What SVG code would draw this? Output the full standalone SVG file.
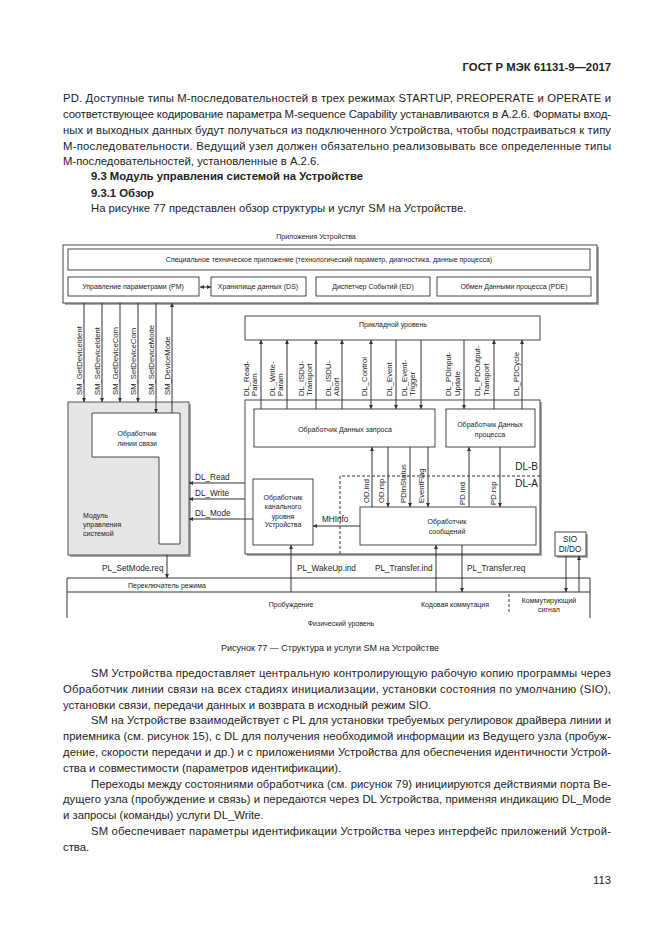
<svg xmlns="http://www.w3.org/2000/svg" width="661" height="935" viewBox="0 0 661 935">
<defs>
<style>
.t{font-family:"Liberation Sans",Arial,sans-serif;fill:#222}
.body{font-size:11.3px}
.b{font-weight:bold}
.d7{font-size:7px}
.lbl{font-size:8.2px}
.rl{font-size:7.7px}
.dl{font-size:10px}
.c{text-anchor:middle}
.e{text-anchor:end}
.ln{stroke:#333;stroke-width:1;fill:none}
.bx{fill:#fff;stroke:#333;stroke-width:0.9}
.sh{fill:#aaa;stroke:none}
.dash{stroke:#333;stroke-width:1;fill:none;stroke-dasharray:3,2}
</style>
<marker id="ah" viewBox="0 0 10 10" refX="10" refY="5" markerWidth="5" markerHeight="4" orient="auto-start-reverse" markerUnits="userSpaceOnUse">
<path d="M0,0 L10,5 L0,10 z" fill="#333"/>
</marker>
</defs>
<rect width="661" height="935" fill="#fff"/>

<!-- page text top -->
<g id="page-top">
<text class="t body b e" x="611" y="71">ГОСТ Р МЭК 61131-9—2017</text>
<text class="t body" x="63" y="102" textLength="548" lengthAdjust="spacing">PD. Доступные типы М-последовательностей в трех режимах STARTUP, PREOPERATE и OPERATE и</text>
<text class="t body" x="63" y="118" textLength="548" lengthAdjust="spacing">соответствующее кодирование параметра M-sequence Capability устанавливаются в А.2.6. Форматы вход-</text>
<text class="t body" x="63" y="134" textLength="548" lengthAdjust="spacing">ных и выходных данных будут получаться из подключенного Устройства, чтобы подстраиваться к типу</text>
<text class="t body" x="63" y="150" textLength="548" lengthAdjust="spacing">М-последовательности. Ведущий узел должен обязательно реализовывать все определенные типы</text>
<text class="t body" x="63" y="165">М-последовательностей, установленные в А.2.6.</text>
<text class="t body b" x="91" y="180">9.3 Модуль управления системой на Устройстве</text>
<text class="t body b" x="91" y="197">9.3.1 Обзор</text>
<text class="t body" x="91" y="212">На рисунке 77 представлен обзор структуры и услуг SM на Устройстве.</text>
</g>

<!-- Application box -->
<g id="app">
<text class="t d7 c" x="316" y="239">Приложения Устройства</text>
<rect class="sh" x="65" y="247" width="534" height="58"/>
<rect class="bx" x="63" y="245" width="534" height="58"/>
</g>
<g id="tech-app">
<rect class="bx" x="68" y="249" width="522" height="21"/>
<text class="t d7 c" x="329" y="262">Специальное техническое приложение (технологический параметр, диагностика, данные процесса)</text>
</g>
<g id="pm">
<rect class="bx" x="68" y="277" width="131" height="19"/>
<text class="t d7 c" x="133" y="289">Управление параметрами (PM)</text>
</g>
<g id="ds">
<rect class="bx" x="211" y="277" width="95" height="19"/>
<text class="t d7 c" x="258" y="289">Хранилище данных (DS)</text>
</g>
<g id="ed">
<rect class="bx" x="316" y="277" width="114" height="19"/>
<text class="t d7 c" x="373" y="289">Диспетчер Событий (ED)</text>
</g>
<g id="pde">
<rect class="bx" x="437" y="277" width="154" height="19"/>
<text class="t d7 c" x="514" y="289">Обмен Данными процесса (PDE)</text>
</g>

<!-- Application layer -->
<g id="al">
<rect class="bx" x="245" y="316" width="295" height="24"/>
<text class="t d7 c" x="393" y="327">Прикладной уровень</text>
</g>

<!-- DL big box -->
<g id="dl">
<rect class="sh" x="247" y="402" width="295" height="154"/>
<rect class="bx" x="245" y="400" width="295" height="154"/>
<text class="t dl e" x="538" y="470">DL-B</text>
<text class="t dl e" x="538" y="487">DL-A</text>
</g>
<g id="odh">
<rect class="bx" x="254" y="409" width="181" height="38"/>
<text class="t d7 c" x="345" y="432">Обработчик Данных запроса</text>
</g>
<g id="pdh">
<rect class="bx" x="446" y="409" width="89" height="38"/>
<text class="t d7 c" x="490" y="427">Обработчик Данных</text>
<text class="t d7 c" x="490" y="437">процесса</text>
</g>
<g id="dlmh">
<rect class="bx" x="253" y="479" width="60" height="66"/>
<text class="t d7 c" x="283" y="500">Обработчик</text>
<text class="t d7 c" x="283" y="509">канального</text>
<text class="t d7 c" x="283" y="519">уровня</text>
<text class="t d7 c" x="283" y="527">Устройства</text>
</g>
<g id="msgh">
<rect class="bx" x="360" y="507" width="176" height="38"/>
<text class="t d7 c" x="447" y="524">Обработчик</text>
<text class="t d7 c" x="447" y="534">сообщений</text>
</g>

<!-- SM -->
<g id="sm">
<rect class="sh" x="70" y="404" width="121" height="153"/>
<rect x="68" y="402" width="121" height="153" fill="#e6e6e6" stroke="#444" stroke-width="0.9"/>
<text class="t d7" x="83" y="518">Модуль</text>
<text class="t d7" x="83" y="527">управления</text>
<text class="t d7" x="83" y="536">системой</text>
</g>
<g id="lh">
<path d="M92,413 H180 V544 H159 V457 H92 Z" fill="#fff" stroke="#333" stroke-width="0.9"/>
<text class="t d7 c" x="137" y="436">Обработчик</text>
<text class="t d7 c" x="137" y="446">линии связи</text>
</g>

<!-- SIO -->
<g id="sio">
<rect class="sh" x="557" y="534" width="31" height="24"/>
<rect class="bx" x="555" y="532" width="31" height="24"/>
<text class="t lbl c" x="570" y="542">SIO</text>
<text class="t lbl c" x="570" y="552">DI/DO</text>
</g>

<!-- Physical layer band -->
<g id="pl">
<path class="ln" d="M67,618 V578 H590 V618 M67,592 H590"/>
<line class="dash" x1="509" y1="594" x2="509" y2="612"/>
<text class="t d7 c" x="167" y="588">Переключатель режима</text>
<text class="t d7 c" x="291" y="607">Пробуждение</text>
<text class="t d7 c" x="455" y="607">Кодовая коммутация</text>
<text class="t d7 c" x="549" y="603">Коммутирующий</text>
<text class="t d7 c" x="549" y="612">сигнал</text>
<text class="t d7 c" x="341" y="626">Физический уровень</text>
</g>

<!-- connectors -->
<g id="connectors">
<line class="ln" x1="200" y1="287" x2="211" y2="287" marker-start="url(#ah)" marker-end="url(#ah)"/>
<!-- SM services -->
<line class="ln" x1="84" y1="303" x2="84" y2="402" marker-end="url(#ah)"/>
<line class="ln" x1="102" y1="303" x2="102" y2="402" marker-end="url(#ah)"/>
<line class="ln" x1="120" y1="303" x2="120" y2="402" marker-end="url(#ah)"/>
<line class="ln" x1="138" y1="303" x2="138" y2="402" marker-end="url(#ah)"/>
<line class="ln" x1="156" y1="303" x2="156" y2="413" marker-end="url(#ah)"/>
<line class="ln" x1="172" y1="413" x2="172" y2="303" marker-end="url(#ah)"/>
<!-- DL services -->
<line class="ln" x1="261" y1="409" x2="261" y2="340" marker-end="url(#ah)"/>
<line class="ln" x1="287" y1="409" x2="287" y2="340" marker-end="url(#ah)"/>
<line class="ln" x1="316" y1="409" x2="316" y2="340" marker-end="url(#ah)"/>
<line class="ln" x1="342" y1="409" x2="342" y2="340" marker-end="url(#ah)"/>
<line class="ln" x1="371" y1="340" x2="371" y2="409" marker-start="url(#ah)" marker-end="url(#ah)"/>
<line class="ln" x1="396" y1="340" x2="396" y2="409" marker-end="url(#ah)"/>
<line class="ln" x1="421" y1="340" x2="421" y2="409" marker-end="url(#ah)"/>
<line class="ln" x1="464" y1="340" x2="464" y2="409" marker-end="url(#ah)"/>
<line class="ln" x1="494" y1="409" x2="494" y2="340" marker-end="url(#ah)"/>
<line class="ln" x1="522" y1="409" x2="522" y2="340" marker-end="url(#ah)"/>
<!-- internal DL -->
<line class="ln" x1="372" y1="507" x2="372" y2="447" marker-end="url(#ah)"/>
<line class="ln" x1="388" y1="447" x2="388" y2="507" marker-end="url(#ah)"/>
<line class="ln" x1="410" y1="447" x2="410" y2="507" marker-end="url(#ah)"/>
<line class="ln" x1="428" y1="447" x2="428" y2="507" marker-end="url(#ah)"/>
<line class="ln" x1="469" y1="507" x2="469" y2="447" marker-end="url(#ah)"/>
<line class="ln" x1="500" y1="447" x2="500" y2="507" marker-end="url(#ah)"/>
<path class="dash" d="M340,554 V476 H540"/>
<!-- DL to SM -->
<line class="ln" x1="245" y1="483" x2="189" y2="483" marker-end="url(#ah)"/>
<line class="ln" x1="245" y1="499" x2="189" y2="499" marker-end="url(#ah)"/>
<line class="ln" x1="253" y1="519" x2="189" y2="519" marker-end="url(#ah)"/>
<line class="ln" x1="360" y1="526" x2="313" y2="526" marker-end="url(#ah)"/>
<!-- PL -->
<line class="ln" x1="167" y1="555" x2="167" y2="578" marker-end="url(#ah)"/>
<line class="ln" x1="291" y1="592" x2="291" y2="545" marker-end="url(#ah)"/>
<line class="ln" x1="436" y1="592" x2="436" y2="545" marker-end="url(#ah)"/>
<line class="ln" x1="462" y1="545" x2="462" y2="592" marker-end="url(#ah)"/>
<line class="ln" x1="566" y1="556" x2="566" y2="592" marker-end="url(#ah)"/>
<line class="ln" x1="579" y1="592" x2="579" y2="556" marker-end="url(#ah)"/>
</g>

<!-- connector labels -->
<g id="labels">
<text class="t rl" transform="translate(82,395) rotate(-90)">SM_GetDeviceIdent</text>
<text class="t rl" transform="translate(100,395) rotate(-90)">SM_SetDeviceIdent</text>
<text class="t rl" transform="translate(118,395) rotate(-90)">SM_GetDeviceCom</text>
<text class="t rl" transform="translate(136,395) rotate(-90)">SM_SetDeviceCom</text>
<text class="t rl" transform="translate(154,395) rotate(-90)">SM_SetDeviceMode</text>
<text class="t rl" transform="translate(170,395) rotate(-90)">SM_DeviceMode</text>

<text class="t rl" transform="translate(249,396) rotate(-90)">DL_Read-</text>
<text class="t rl" transform="translate(257,396) rotate(-90)">Param</text>
<text class="t rl" transform="translate(275,396) rotate(-90)">DL_Write-</text>
<text class="t rl" transform="translate(283,396) rotate(-90)">Param</text>
<text class="t rl" transform="translate(304,396) rotate(-90)">DL_ISDU-</text>
<text class="t rl" transform="translate(312,396) rotate(-90)">Transport</text>
<text class="t rl" transform="translate(331,396) rotate(-90)">DL_ISDU-</text>
<text class="t rl" transform="translate(339,396) rotate(-90)">Abort</text>
<text class="t rl" transform="translate(367,396) rotate(-90)">DL_Control</text>
<text class="t rl" transform="translate(392,396) rotate(-90)">DL_Event</text>
<text class="t rl" transform="translate(407,396) rotate(-90)">DL_Event-</text>
<text class="t rl" transform="translate(415,396) rotate(-90)">Trigger</text>
<text class="t rl" transform="translate(451,396) rotate(-90)">DL_PDInput-</text>
<text class="t rl" transform="translate(460,396) rotate(-90)">Update</text>
<text class="t rl" transform="translate(480,396) rotate(-90)">DL_PDOutput-</text>
<text class="t rl" transform="translate(489,396) rotate(-90)">Transport</text>
<text class="t rl" transform="translate(519,396) rotate(-90)">DL_PDCycle</text>

<text class="t rl" transform="translate(369,503) rotate(-90)">OD.ind</text>
<text class="t rl" transform="translate(384,503) rotate(-90)">OD.rsp</text>
<text class="t rl" transform="translate(406,503) rotate(-90)">PDInStatus</text>
<text class="t rl" transform="translate(424,503) rotate(-90)">EventFlag</text>
<text class="t rl" transform="translate(465,505) rotate(-90)">PD.ind</text>
<text class="t rl" transform="translate(496,505) rotate(-90)">PD.rsp</text>

<text class="t lbl" x="195" y="480">DL_Read</text>
<text class="t lbl" x="195" y="496">DL_Write</text>
<text class="t lbl" x="195" y="516">DL_Mode</text>
<text class="t lbl" x="322" y="522">MHInfo</text>
<text class="t lbl" x="102" y="571">PL_SetMode.req</text>
<text class="t lbl" x="297" y="571">PL_WakeUp.ind</text>
<text class="t lbl" x="375" y="571">PL_Transfer.ind</text>
<text class="t lbl" x="467" y="571">PL_Transfer.req</text>
</g>

<!-- page text bottom -->
<g id="page-bottom">
<text class="t c" style="font-size:9px" x="330" y="651">Рисунок 77 — Структура и услуги SM на Устройстве</text>
<text class="t body" x="91" y="677" textLength="520" lengthAdjust="spacing">SM Устройства предоставляет центральную контролирующую рабочую копию программы через</text>
<text class="t body" x="63" y="693" textLength="548" lengthAdjust="spacing">Обработчик линии связи на всех стадиях инициализации, установки состояния по умолчанию (SIO),</text>
<text class="t body" x="63" y="709">установки связи, передачи данных и возврата в исходный режим SIO.</text>
<text class="t body" x="91" y="724" textLength="520" lengthAdjust="spacing">SM на Устройстве взаимодействует с PL для установки требуемых регулировок драйвера линии и</text>
<text class="t body" x="63" y="740" textLength="548" lengthAdjust="spacing">приемника (см. рисунок 15), с DL для получения необходимой информации из Ведущего узла (пробуж-</text>
<text class="t body" x="63" y="756" textLength="548" lengthAdjust="spacing">дение, скорости передачи и др.) и с приложениями Устройства для обеспечения идентичности Устрой-</text>
<text class="t body" x="63" y="772">ства и совместимости (параметров идентификации).</text>
<text class="t body" x="91" y="788" textLength="520" lengthAdjust="spacing">Переходы между состояниями обработчика (см. рисунок 79) инициируются действиями порта Ве-</text>
<text class="t body" x="63" y="803" textLength="548" lengthAdjust="spacing">дущего узла (пробуждение и связь) и передаются через DL Устройства, применяя индикацию DL_Mode</text>
<text class="t body" x="63" y="819">и запросы (команды) услуги DL_Write.</text>
<text class="t body" x="91" y="835" textLength="520" lengthAdjust="spacing">SM обеспечивает параметры идентификации Устройства через интерфейс приложений Устрой-</text>
<text class="t body" x="63" y="851">ства.</text>
<text class="t body e" x="611" y="884">113</text>
</g>
</svg>
